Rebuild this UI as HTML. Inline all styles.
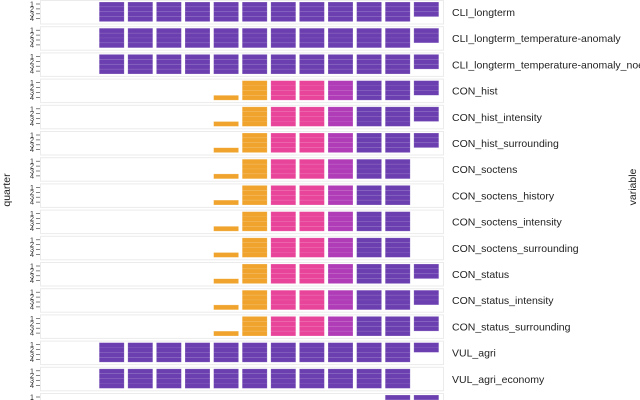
<!DOCTYPE html>
<html><head><meta charset="utf-8"><style>
html,body{margin:0;padding:0;background:#fff;width:640px;height:400px;overflow:hidden}
svg{display:block;font-family:"Liberation Sans","DejaVu Sans",sans-serif}
</style></head><body>
<svg id="s" width="640" height="400" xmlns="http://www.w3.org/2000/svg"></svg>
<script>
const P='#6b3fb0',O='#f0a42e',K='#e8449a',M='#b03cb7';
const names=["CLI_longterm","CLI_longterm_temperature-anomaly","CLI_longterm_temperature-anomaly_noe","CON_hist","CON_hist_intensity","CON_hist_surrounding","CON_soctens","CON_soctens_history","CON_soctens_intensity","CON_soctens_surrounding","CON_status","CON_status_intensity","CON_status_surrounding","VUL_agri","VUL_agri_economy",""];
const last=[3,3,3,3,3,3,0,0,0,0,3,3,3,2,0,4];
let h='';
const pitch=26.2;
for(let r=0;r<16;r++){
 const top=r*pitch;
 h+=`<rect x="40.5" y="${top+0.5}" width="403" height="23.5" fill="#fff" stroke="#ebebeb"/>`;
 ['1','2','3','4'].forEach((t,i)=>{const y=top+4+i*4.9;
  h+=`<line x1="36" x2="40" y1="${y}" y2="${y}" stroke="#333" stroke-width="0.6"/><text x="34" y="${y+2.5}" font-size="7.5" text-anchor="end" fill="#333">${t}</text>`});
 if(names[r])h+=`<text x="452" y="${top+16}" font-size="10.5" fill="#222">${names[r]}</text>`;
 const con=r>=3&&r<=12;
 for(let c=2;c<=13;c++){
  let col=null,q=4,from=0;
  if(r<=2||r==13||r==14){ if(c<=12)col=P; }
  else if(con){
   if(c==6){col=O;q=1;from=3;}
   else if(c==7)col=O;else if(c==8||c==9)col=K;else if(c==10)col=M;else if(c==11||c==12)col=P;
  } else { if(c>=12)col=P; }
  if(c==13&&r!=15){ if(last[r]){col=P;q=last[r];from=0;} else col=null; }
  if(!col)continue;
  const x=42+28.6*c;
  for(let k=from;k<from+q;k++){
   h+=`<rect x="${x}" y="${top+2+k*4.9}" width="25" height="4.9" fill="${col}" stroke="#ffffff" stroke-opacity="0.12" stroke-width="0.5"/>`;
  }
  h+=`<rect x="${x}" y="${top+2+from*4.9}" width="25" height="${q*4.9}" fill="none" stroke="#fff" stroke-opacity="0.3" stroke-width="0.6"/>`;
 }
}
h+=`<text transform="translate(10,190) rotate(-90)" font-size="10.5" fill="#222" text-anchor="middle">quarter</text>`;
h+=`<text transform="translate(636,187) rotate(-90)" font-size="10.5" fill="#222" text-anchor="middle">variable</text>`;
document.getElementById('s').innerHTML=h;
</script>
</body></html>
